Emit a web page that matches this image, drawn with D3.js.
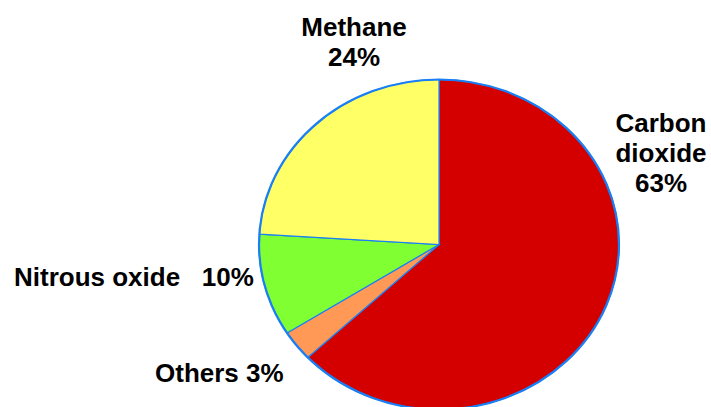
<!DOCTYPE html>
<html>
<head>
<meta charset="utf-8">
<script src="https://cdn.jsdelivr.net/npm/d3@7"></script>
<style>
  html, body { margin: 0; padding: 0; background: #fff; }
  svg { display: block; }
  text { font-family: "Liberation Sans", Arial, sans-serif; font-weight: bold; font-size: 26px; fill: #000; }
</style>
</head>
<body>
<svg id="chart" width="711" height="407"></svg>
<script>
// gases, clockwise from 12 o'clock
var gases = ['Carbon dioxide', 'Others', 'Nitrous oxide', 'Methane'];
var shares = [63, 3, 10, 24];
var colors = ['#d40000', '#ff9955', '#80ff33', '#ffff66'];
var labelLines = [['Carbon', 'dioxide', '63%'], ['Others 3%'], ['Nitrous oxide   10%'], ['Methane', '24%']];

var width = 711, height = 407;
var cx = 439, cy = 244.5, rx = 180, ry = 165;

var svg = d3.select('#chart');

// pie is a slightly flattened circle
var pieG = svg.append('g')
  .attr('transform', 'translate(' + cx + ',' + cy + ') scale(1,' + (ry / rx) + ')');

var pie = d3.pie().sort(null).value(function(d) { return d; });
var arc = d3.arc().innerRadius(0).outerRadius(rx);
var arcs = pie(shares);

pieG.selectAll('path.slice')
  .data(arcs)
  .enter().append('path')
    .attr('class', 'slice')
    .attr('d', arc)
    .attr('fill', function(d, i) { return colors[i]; })
    .attr('stroke', '#1a7ff5')
    .attr('stroke-width', 1.2)
    .attr('vector-effect', 'non-scaling-stroke');

// outer rim a bit heavier
pieG.append('circle')
  .attr('r', rx)
  .attr('fill', 'none')
  .attr('stroke', '#1a7ff5')
  .attr('stroke-width', 2.2)
  .attr('vector-effect', 'non-scaling-stroke');

// label anchors (x, first baseline, anchor)
var labelPos = [
  [661, 132, 'middle'],
  [155, 382, 'start'],
  [14, 286, 'start'],
  [354, 36, 'middle']
];
var lineH = 30;

var labels = svg.selectAll('text.lbl')
  .data(labelLines)
  .enter().append('text')
    .attr('class', 'lbl')
    .attr('x', function(d, i) { return labelPos[i][0]; })
    .attr('y', function(d, i) { return labelPos[i][1]; })
    .attr('text-anchor', function(d, i) { return labelPos[i][2]; })
    .style('white-space', 'pre');

labels.each(function(lines, i) {
  var t = d3.select(this);
  lines.forEach(function(s, k) {
    t.append('tspan')
      .attr('x', labelPos[i][0])
      .attr('dy', k === 0 ? 0 : lineH)
      .text(s);
  });
});
</script>
</body>
</html>
